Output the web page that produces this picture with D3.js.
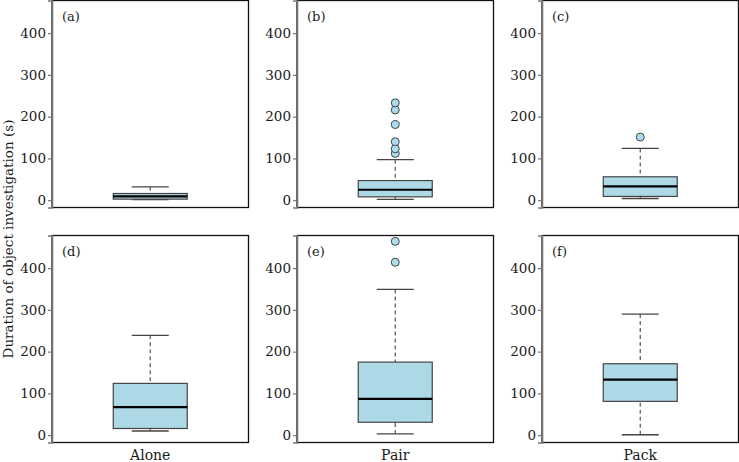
<!DOCTYPE html>
<html><head><meta charset="utf-8">
<script src="https://cdn.jsdelivr.net/npm/d3@7"></script>
<style>body{margin:0;background:#fff;} svg{display:block;}</style>
</head><body>
<script>
const categories = ["Alone", "Pair", "Pack"];
const panelLabels = ["(a)", "(b)", "(c)", "(d)", "(e)", "(f)"];
const yTicks = [0, 100, 200, 300, 400];
const yLabel = "Duration of object investigation (s)";

// top row (a)-(c)
const topLow = [1.5, 2, 4];
const topQ1 = [2.5, 8, 9];
const topMedian = [9, 25, 33];
const topQ3 = [16, 47, 56];
const topHigh = [32, 97, 124];
const topOutliers = [[], [112, 123, 140, 181, 216, 233], [151]];

// bottom row (d)-(f)
const bottomLow = [10, 3, 1];
const bottomQ1 = [16, 31, 81];
const bottomMedian = [67, 87, 133];
const bottomQ3 = [124, 175, 171];
const bottomHigh = [239, 349, 290];
const bottomOutliers = [[], [414, 464], []];

const W = 739, H = 462;
const svg = d3.select("body").append("svg").attr("width", W).attr("height", H);
const font = "DejaVu Serif";

const panelX = d3.scalePoint().domain([0,1,2]).range([52, 542]);
const pw = 196.5;
const rowTop = [0.5, 235.5];
const ph = 207;

const rows = [
  {low: topLow, q1: topQ1, med: topMedian, q3: topQ3, high: topHigh, out: topOutliers},
  {low: bottomLow, q1: bottomQ1, med: bottomMedian, q3: bottomQ3, high: bottomHigh, out: bottomOutliers}
];

rows.forEach((row, r) => {
  categories.forEach((cat, c) => {
    const x0 = panelX(c), y0 = rowTop[r];
    const g = svg.append("g").attr("transform", `translate(${x0},${y0})`);
    const y = d3.scaleLinear().domain([-17.5, 478]).range([ph, 0]);
    const x = d3.scaleBand().domain([cat]).range([0, pw]).paddingInner(0).paddingOuter(0);
    const cx = x(cat) + x.bandwidth()/2;
    const bw = 74;

    // frame
    g.append("rect").attr("x", 0).attr("y", 0).attr("width", pw).attr("height", ph)
      .attr("fill", "none").attr("stroke", "#111").attr("stroke-width", 1.3);

    // axis
    const ax = g.append("g").call(d3.axisLeft(y).tickValues(yTicks).tickSize(4).tickPadding(2));
    ax.select(".domain").attr("stroke", "#777").attr("stroke-width", 1.6);
    ax.selectAll(".tick line").attr("stroke", "#777").attr("stroke-width", 1.2);
    ax.selectAll(".tick text").attr("font-family", font).attr("font-size", 13.5).attr("fill", "#1a1a1a");

    // whiskers
    g.append("line").attr("x1", cx).attr("x2", cx).attr("y1", y(row.high[c])).attr("y2", y(row.q3[c]))
      .attr("stroke", "#555").attr("stroke-width", 1.2).attr("stroke-dasharray", "4,3");
    g.append("line").attr("x1", cx).attr("x2", cx).attr("y1", y(row.low[c])).attr("y2", y(row.q1[c]))
      .attr("stroke", "#555").attr("stroke-width", 1.2).attr("stroke-dasharray", "4,3");
    [row.high[c], row.low[c]].forEach(v => {
      g.append("line").attr("x1", cx - bw/4).attr("x2", cx + bw/4).attr("y1", y(v)).attr("y2", y(v))
        .attr("stroke", "#444").attr("stroke-width", 1.3);
    });

    // box
    g.append("rect").attr("x", cx - bw/2).attr("width", bw)
      .attr("y", y(row.q3[c])).attr("height", y(row.q1[c]) - y(row.q3[c]))
      .attr("fill", "#add8e6").attr("stroke", "#444").attr("stroke-width", 1.2);
    g.append("line").attr("x1", cx - bw/2).attr("x2", cx + bw/2)
      .attr("y1", y(row.med[c])).attr("y2", y(row.med[c]))
      .attr("stroke", "#000").attr("stroke-width", 2.2);

    // outliers
    g.selectAll("circle.o").data(row.out[c]).enter().append("circle")
      .attr("cx", cx).attr("cy", d => y(d)).attr("r", 4)
      .attr("fill", "#a9dcec").attr("stroke", "#444").attr("stroke-width", 1);

    // panel label
    g.append("text").attr("x", 10).attr("y", 20).attr("font-family", font).attr("font-size", 13)
      .attr("fill", "#1a1a1a").text(panelLabels[r*3 + c]);

    if (r === 1) {
      g.append("text").attr("x", cx).attr("y", ph + 17).attr("text-anchor", "middle")
        .attr("font-family", font).attr("font-size", 14).attr("fill", "#1a1a1a").text(cat);
    }
  });
});

svg.append("text").attr("transform", "translate(13,239) rotate(-90)")
  .attr("text-anchor", "middle").attr("font-family", font).attr("font-size", 13.5)
  .attr("fill", "#1a1a1a").text(yLabel);
</script>
</body></html>
